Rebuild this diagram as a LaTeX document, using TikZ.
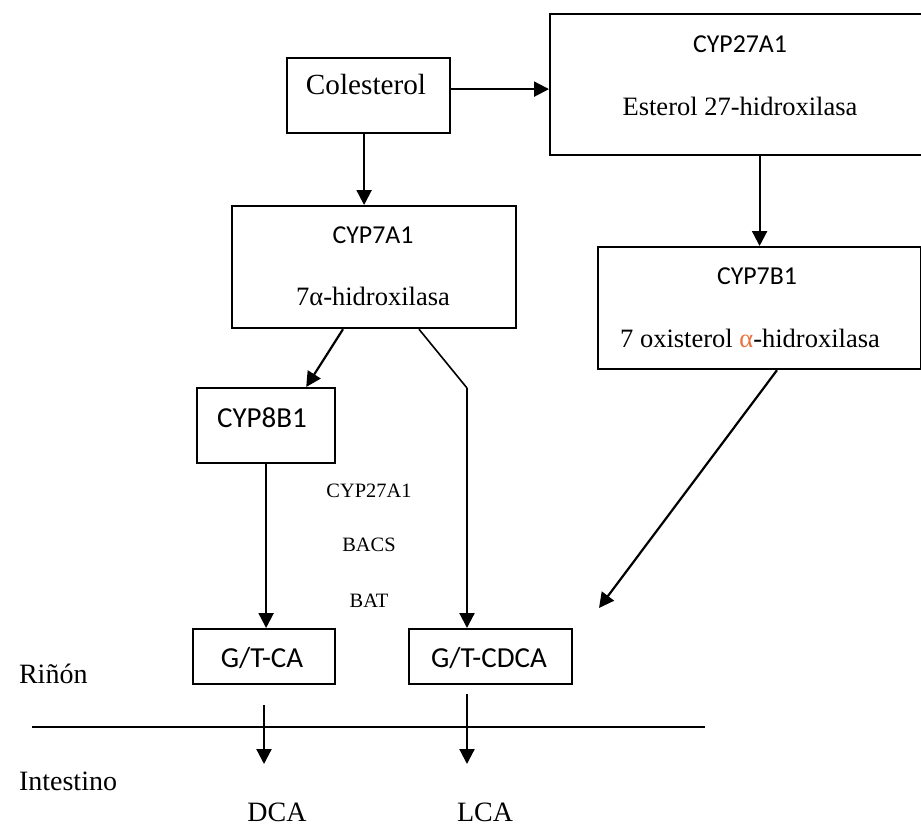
\documentclass[tikz,border=0pt]{standalone}
\usepackage{fontspec}
\setmainfont{Liberation Serif}
\newfontfamily\calibri{Carlito}
\usetikzlibrary{arrows.meta}
\definecolor{alfa}{RGB}{237,112,60}
\def\px{0.5pt}
\tikzset{
     caja/.style={draw, rectangle, line width=1.1pt, inner sep=0pt, anchor=north west},
     cyp/.style={font=\calibri\fontsize{12.9}{14}\selectfont, anchor=base},
     cypb/.style={font=\calibri\fontsize{14.5}{16}\selectfont, anchor=base},
     nom/.style={font=\fontsize{13.25}{15}\selectfont, anchor=base},
     colest/.style={font=\fontsize{14.6}{16}\selectfont, anchor=base},
     paso/.style={font=\fontsize{10.2}{12}\selectfont, anchor=base},
     sitio/.style={font=\fontsize{14}{16}\selectfont, anchor=base},
     flecha/.style={->, line width=1.1pt},
     fina/.style={line width=0.8pt},
}
\tikzset{>={Triangle[length=7.5pt,width=7.5pt]}}

\begin{document}
\begin{tikzpicture}[x=\px, y=-\px]
  \useasboundingbox (0,0) rectangle (921,826);

  % cajas
  \node[caja, minimum width=163*\px, minimum height=75*\px] (col) at (286,57) {};
  \node[caja, minimum width=382*\px, minimum height=141*\px] (cyp27) at (549,13) {};
  \node[caja, minimum width=284*\px, minimum height=122*\px] (cyp7a) at (231,205) {};
  \node[caja, minimum width=323*\px, minimum height=122*\px] (cyp7b) at (597,246) {};
  \node[caja, minimum width=138*\px, minimum height=75*\px] (cyp8b) at (196,387) {};
  \node[caja, minimum width=142*\px, minimum height=55*\px] (gtca) at (192,628) {};
  \node[caja, minimum width=163*\px, minimum height=55*\px] (gtcdca) at (408,628) {};

  % textos de las cajas
  \node[colest] (colt) at (366,94) {Colesterol};
  \node[cyp] (cyp27t) at (740,52) {CYP27A1};
  \node[nom] (cyp27n) at (740,115) {Esterol 27-hidroxilasa};
  \node[cyp] (cyp7at) at (373,243) {CYP7A1};
  \node[nom] (cyp7an) at (373,305) {7α-hidroxilasa};
  \node[cyp] (cyp7bt) at (757,284) {CYP7B1};
  \node[nom] (cyp7bn) at (750,347) {7 oxisterol {\color{alfa}α}-hidroxilasa};
  \node[cypb] (cyp8bt) at (262,427) {CYP8B1};
  \node[cypb] (gtcat) at (262,667) {G/T-CA};
  \node[cypb] (gtcdcat) at (489,667) {G/T-CDCA};

  % enzimas intermedias
  \foreach \n/\t/\y in {p1/CYP27A1/497, p2/BACS/551, p3/BAT/607}{
    \node[paso] (\n) at (369,\y) {\t};
  }

  % flechas
  \coordinate (c1) at ([yshift=3.25pt]col.east);
  \draw[flecha] (c1) -- (c1 -| cyp27.west);
  \coordinate (c2) at ([xshift=-2.25pt]col.south);
  \draw[flecha] (c2) -- (c2 |- cyp7a.north);
  \draw[flecha] (cyp7b.north |- cyp27.south) -- (cyp7b.north);
  \draw[flecha] ([xshift=56pt]cyp7a.south west) -- ([xshift=-15pt]cyp8b.north east);
  \coordinate (codo) at (467,388);
  \draw[fina] ([xshift=94pt]cyp7a.south west) -- (codo);
  \draw[flecha] (codo) -- (codo |- gtcdca.north);
  \draw[flecha] (cyp8b.south) -- (cyp8b.south |- gtca.north);
  \coordinate (cdca) at (599,608);
  \draw[flecha] ([xshift=90pt]cyp7b.south west) -- (cdca);

  % rinon / intestino
  \draw[fina] (32,727) coordinate (sepi) -- (705,727) coordinate (sepd);
  \node[sitio, anchor=base west] (rin) at (12,683) {Riñón};
  \node[sitio, anchor=base west] (int) at (12,790) {Intestino};
  \coordinate (dcaf) at (264,764);
  \coordinate (lcaf) at (467,764);
  \draw[flecha, shorten <=10pt] (gtca.south -| dcaf) -- (dcaf);
  \draw[flecha, shorten <=4.5pt] (gtcdca.south -| lcaf) -- (lcaf);
  \node[sitio] (dca) at (277,821) {DCA};
  \node[sitio] (lca) at (485,821) {LCA};
\end{tikzpicture}
\end{document}
